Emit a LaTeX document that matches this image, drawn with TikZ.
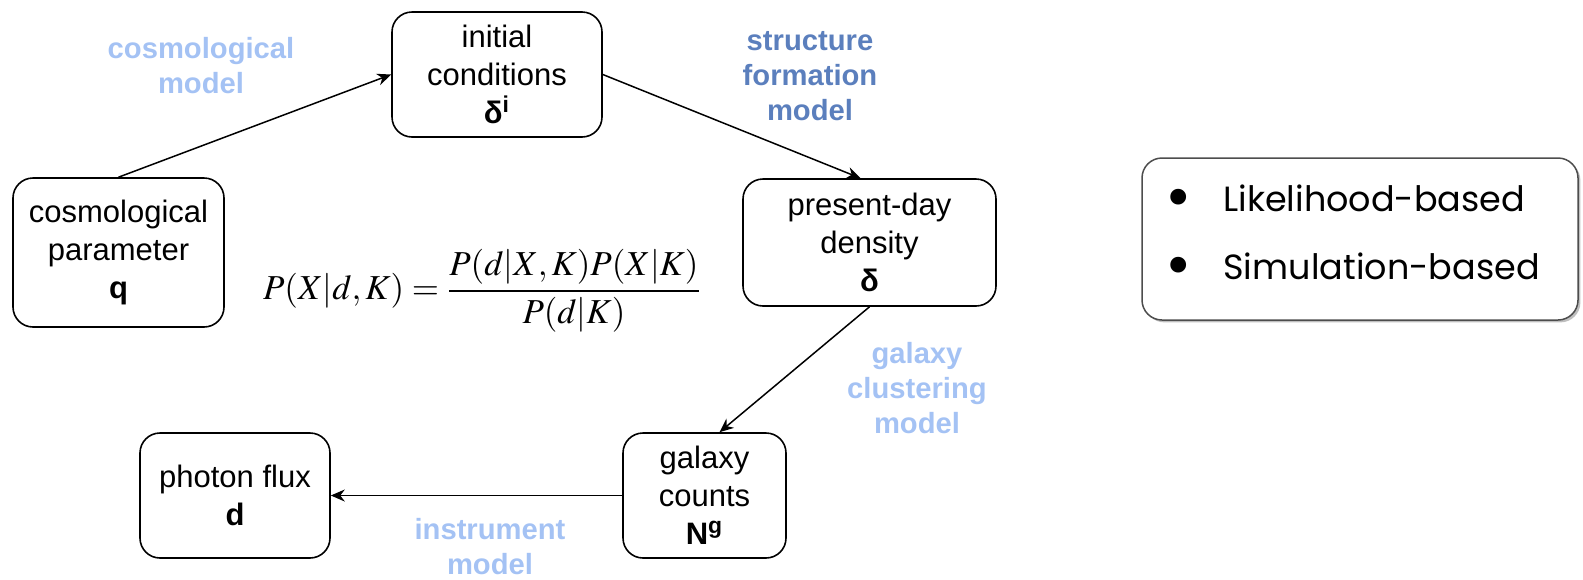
\documentclass[tikz,border=0pt]{standalone}
\usepackage{amsmath}
\usepackage{mathptmx}
\usepackage[no-math]{fontspec}
\setmainfont{Liberation Sans}
\newfontfamily\legfont{Poppins}
\usepackage{xcolor}
\definecolor{lightmodel}{HTML}{A4C2F4}
\definecolor{darkmodel}{HTML}{5B7FBD}
\definecolor{legendgray}{HTML}{4D4D4D}
\usepackage{tikz}
\usetikzlibrary{arrows.meta, positioning, shadows}
\newcommand{\legdot}{\makebox[29pt][l]{\raisebox{-3.5pt}{\fontsize{32}{32}\selectfont •}}}

\begin{document}
\begin{tikzpicture}[
    x=0.5pt, y=-0.5pt,
    box/.style={rectangle, rounded corners=10pt, draw, line width=0.8pt,
      align=center, inner sep=0pt, font=\fontsize{15.5}{19}\selectfont},
    model/.style={align=center, font=\fontsize{14.6}{17.5}\selectfont\bfseries},
    arrow/.style={line width=0.75pt, -{Stealth[length=7pt, width=6pt]}}
]
\useasboundingbox (0,0) rectangle (1583,579);
\node[box, minimum width=105.5pt, minimum height=74.5pt] (param) at (118.5,252.5) {cosmological\\parameter\\\textbf{q}};
\node[box, minimum width=105pt, minimum height=62.5pt] (init) at (497,74.5) {initial\\conditions\\\textbf{δ\textsuperscript{i}}};
\node[box, minimum width=126.5pt, minimum height=63.5pt] (dens) at (869.5,242.5) {present-day\\density\\\textbf{δ}};
\node[box, minimum width=81.5pt, minimum height=62.5pt] (counts) at (704.5,495.5) {galaxy\\counts\\\textbf{N\textsuperscript{g}}};
\node[box, minimum width=95pt, minimum height=62.5pt] (flux) at (235,495.5) {photon flux\\\textbf{d}};
\node[font=\fontsize{17.5}{20}\selectfont] (bayes) at (482,291) {$\displaystyle P(X|d,K)=\frac{P(d|X,K)P(X|K)}{P(d|K)}$};
\node[model, text=lightmodel] (cosmolab) at (201,66) {cosmological\\model};
\node[model, text=darkmodel] (structlab) at (810,76) {structure\\formation\\model};
\node[model, text=lightmodel] (clustlab) at (917,388) {galaxy\\clustering\\model};
\node[model, text=lightmodel] (instrlab) at (490,547) {instrument\\model};
\node[rectangle, rounded corners=10pt, draw=legendgray, line width=0.75pt, fill=white,
  minimum width=218pt, minimum height=81pt,
  drop shadow={shadow xshift=1.2pt, shadow yshift=-1.2pt, opacity=0.5}] (legend) at (1360,239) {};
\node[align=left, anchor=west, inner sep=0pt, font=\legfont\fontsize{17.5}{34}\selectfont] (methods) at (1165,236) {\legdot Likelihood-based\\\legdot Simulation-based};
\draw[arrow] (param.north) -- (init.west);
\draw[arrow] (init.east) -- ([xshift=-4.5pt]dens.north);
\draw[arrow] (dens.south) -- ([xshift=7.5pt]counts.north);
\draw[arrow] (counts.west) -- (flux.east);
\end{tikzpicture}
\end{document}
